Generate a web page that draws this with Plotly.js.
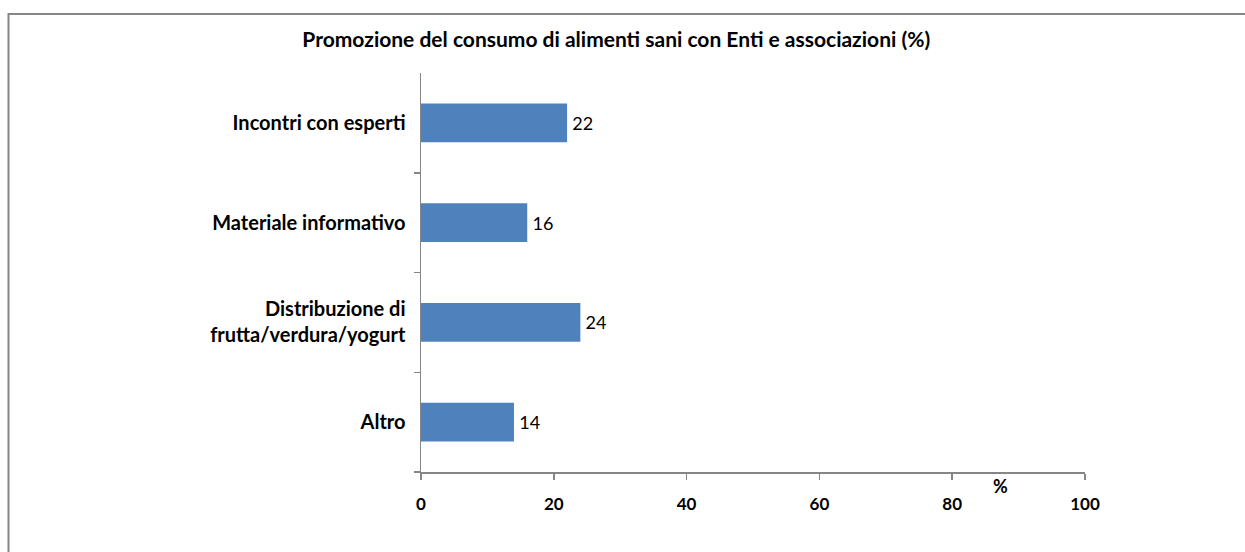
<!DOCTYPE html>
<html>
<head>
<meta charset="utf-8">
<script src="https://cdn.plot.ly/plotly-3.0.1.min.js"></script>
<style>
html,body{margin:0;padding:0;background:#fff;}
#chart{width:1245px;height:552px;}
</style>
</head>
<body>
<div id="chart"></div>
<script>
const categories = ["Incontri con esperti", "Materiale informativo", "Distribuzione di<br>frutta/verdura/yogurt", "Altro"];
const values = [22, 16, 24, 14];
const xTicks = [0, 20, 40, 60, 80, 100];
const titleText = "Promozione del consumo di alimenti sani con Enti e associazioni (%)";
const unitLabel = "%";

const FONT = "Lato, 'Open Sans', sans-serif";
const GRAY = "#868686";

const trace = {
  type: "bar",
  orientation: "h",
  y: categories,
  x: values,
  marker: {color: "#4F81BD"},
  text: values.map(v => "\u2009" + v),
  textposition: "outside",
  cliponaxis: false,
  textfont: {family: FONT, size: 18, color: "#000"},
  hoverinfo: "none"
};

const layout = {
  width: 1245,
  height: 552,
  margin: {l: 421, r: 160, t: 73, b: 80, pad: 0},
  paper_bgcolor: "#fff",
  plot_bgcolor: "#fff",
  showlegend: false,
  bargap: 0.61,
  title: {
    text: "<b>" + titleText + "</b>",
    font: {family: FONT, size: 21, color: "#000"},
    xref: "container", x: 0.495, xanchor: "center",
    yref: "container", y: 1 - 40/552, yanchor: "middle"
  },
  xaxis: {
    range: [0, 100],
    tickvals: xTicks,
    ticktext: xTicks.map(v => "<b>" + v + "</b>"),
    ticks: "outside",
    ticklen: 6,
    tickwidth: 1.5,
    tickcolor: GRAY,
    showline: true,
    linecolor: GRAY,
    linewidth: 1.5,
    showgrid: false,
    zeroline: false,
    tickfont: {family: FONT, size: 17, color: "#000"},
    ticklabelstandoff: 10,
    fixedrange: true
  },
  yaxis: {
    type: "category",
    categoryorder: "array",
    categoryarray: categories.slice().reverse(),
    autorange: true,
    tickson: "boundaries",
    ticks: "outside",
    ticklen: 6,
    tickwidth: 1.5,
    tickcolor: GRAY,
    showline: true,
    linecolor: GRAY,
    linewidth: 1.5,
    showgrid: false,
    zeroline: false,
    tickfont: {family: FONT, size: 20, color: "#000"},
    ticklabelstandoff: 10,
    tickvals: categories,
    ticktext: categories.map(c => "<b>" + c + "</b>"),
    fixedrange: true
  },
  annotations: [{
    text: "<b>" + unitLabel + "</b>",
    xref: "x", x: 87.2,
    yref: "paper", y: -(486 - 472) / 399,
    xanchor: "center", yanchor: "middle",
    showarrow: false,
    font: {family: FONT, size: 18, color: "#000"}
  }],
  shapes: [{
    type: "path",
    xref: "paper", yref: "paper",
    path: "M " + ((8.5 - 421) / 664) + " " + (-1) + " L " + ((8.5 - 421) / 664) + " " + (1 + (73 - 14) / 399) + " L 2 " + (1 + (73 - 14) / 399),
    line: {color: GRAY, width: 2}
  }]
};

Plotly.newPlot("chart", [trace], layout, {displayModeBar: false, staticPlot: true});
</script>
</body>
</html>
